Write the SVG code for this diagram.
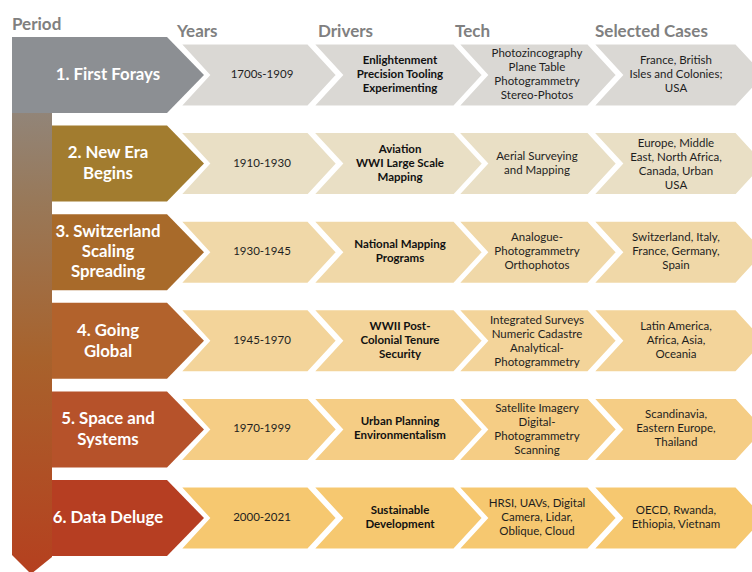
<svg xmlns="http://www.w3.org/2000/svg" xmlns:xlink="http://www.w3.org/1999/xlink" width="752" height="572" viewBox="0 0 752 572">
<style>
.hdr{font-family:Lato,"Liberation Sans",sans-serif;font-weight:bold;font-size:17px;fill:#808080}
.pt{font-family:Lato,"Liberation Sans",sans-serif;font-weight:bold;font-size:16.8px;fill:#ffffff;text-anchor:middle}
.t{font-family:Lato,"Liberation Sans",sans-serif;font-size:11.5px;fill:#1e1e1e;text-anchor:middle}
.b{font-weight:bold;fill:#111111}
.chev{stroke:#ffffff;stroke-width:2}
.r1p{fill:#8c8f93}.r1i{fill:#dad8d4}
.r2p{fill:#a27c2f}.r2i{fill:#e9dfc5}
.r3p{fill:#a86a2a}.r3i{fill:#f0d8a8}
.r4p{fill:#b2622c}.r4i{fill:#f3d49a}
.r5p{fill:#b6522a}.r5i{fill:#f5cd85}
.r6p{fill:#b63e22}.r6i{fill:#f6c870}
</style>
<defs>
<linearGradient id="barg" x1="0" y1="0" x2="0" y2="1">
<stop offset="0" stop-color="#8c8f93"/>
<stop offset="0.3" stop-color="#98795a"/>
<stop offset="0.6" stop-color="#a8622c"/>
<stop offset="1" stop-color="#b5401f"/>
</linearGradient>
<path id="per" d="M52,0 H167 L204,38 L167,76 H52 Z"/>
<path id="yrs" d="M180,6.5 H308 L337,38 L308,69.5 H180 L209,38 Z"/>
<path id="drv" d="M313,6.5 H454 L483,38 L454,69.5 H313 L342,38 Z"/>
<path id="tec" d="M458,6.5 H588 L617,38 L588,69.5 H458 L487,38 Z"/>
<path id="cas" d="M593,6.5 H736 L765,38 L736,69.5 H593 L622,38 Z"/>
</defs>

<g id="headers">
<text class="hdr" x="12" y="30">Period</text>
<text class="hdr" x="177" y="37">Years</text>
<text class="hdr" x="318" y="37">Drivers</text>
<text class="hdr" x="455" y="37">Tech</text>
<text class="hdr" x="595" y="37">Selected Cases</text>
</g>

<g id="timeline-bar">
<path d="M12,37 H52 V557 L31,574 L12,555 Z" fill="url(#barg)"/>
</g>

<g id="row1" transform="translate(0,37)">
<path d="M12,0 H167 L204,38 L167,76 H12 Z" class="r1p"/>
<use xlink:href="#yrs" class="r1i chev"/>
<use xlink:href="#drv" class="r1i chev"/>
<use xlink:href="#tec" class="r1i chev"/>
<use xlink:href="#cas" class="r1i chev"/>
<text class="pt" x="108" y="43">1. First Forays</text>
<text class="t" x="262" y="41">1700s-1909</text>
<text class="t b" x="400" y="27">Enlightenment</text>
<text class="t b" x="400" y="41">Precision Tooling</text>
<text class="t b" x="400" y="55">Experimenting</text>
<text class="t" x="537" y="20">Photozincography</text>
<text class="t" x="537" y="34">Plane Table</text>
<text class="t" x="537" y="48">Photogrammetry</text>
<text class="t" x="537" y="62">Stereo-Photos</text>
<text class="t" x="676" y="27">France, British</text>
<text class="t" x="676" y="41">Isles and Colonies;</text>
<text class="t" x="676" y="55">USA</text>
</g>

<g id="row2" transform="translate(0,125.6)">
<use xlink:href="#per" class="r2p"/>
<use xlink:href="#yrs" class="r2i chev"/>
<use xlink:href="#drv" class="r2i chev"/>
<use xlink:href="#tec" class="r2i chev"/>
<use xlink:href="#cas" class="r2i chev"/>
<text class="pt" x="108" y="32">2. New Era</text>
<text class="pt" x="108" y="53">Begins</text>
<text class="t" x="262" y="41">1910-1930</text>
<text class="t b" x="400" y="27">Aviation</text>
<text class="t b" x="400" y="41">WWI Large Scale</text>
<text class="t b" x="400" y="55">Mapping</text>
<text class="t" x="537" y="34">Aerial Surveying</text>
<text class="t" x="537" y="48">and Mapping</text>
<text class="t" x="676" y="21">Europe, Middle</text>
<text class="t" x="676" y="35">East, North Africa,</text>
<text class="t" x="676" y="49">Canada, Urban</text>
<text class="t" x="676" y="63">USA</text>
</g>

<g id="row3" transform="translate(0,214.2)">
<use xlink:href="#per" class="r3p"/>
<use xlink:href="#yrs" class="r3i chev"/>
<use xlink:href="#drv" class="r3i chev"/>
<use xlink:href="#tec" class="r3i chev"/>
<use xlink:href="#cas" class="r3i chev"/>
<text class="pt" x="108" y="23">3. Switzerland</text>
<text class="pt" x="108" y="43">Scaling</text>
<text class="pt" x="108" y="63">Spreading</text>
<text class="t" x="262" y="41">1930-1945</text>
<text class="t b" x="400" y="34">National Mapping</text>
<text class="t b" x="400" y="48">Programs</text>
<text class="t" x="537" y="27">Analogue-</text>
<text class="t" x="537" y="41">Photogrammetry</text>
<text class="t" x="537" y="55">Orthophotos</text>
<text class="t" x="676" y="27">Switzerland, Italy,</text>
<text class="t" x="676" y="41">France, Germany,</text>
<text class="t" x="676" y="55">Spain</text>
</g>

<g id="row4" transform="translate(0,302.8)">
<use xlink:href="#per" class="r4p"/>
<use xlink:href="#yrs" class="r4i chev"/>
<use xlink:href="#drv" class="r4i chev"/>
<use xlink:href="#tec" class="r4i chev"/>
<use xlink:href="#cas" class="r4i chev"/>
<text class="pt" x="108" y="33">4. Going</text>
<text class="pt" x="108" y="54">Global</text>
<text class="t" x="262" y="41">1945-1970</text>
<text class="t b" x="400" y="27">WWII Post-</text>
<text class="t b" x="400" y="41">Colonial Tenure</text>
<text class="t b" x="400" y="55">Security</text>
<text class="t" x="537" y="21">Integrated Surveys</text>
<text class="t" x="537" y="35">Numeric Cadastre</text>
<text class="t" x="537" y="49">Analytical-</text>
<text class="t" x="537" y="63">Photogrammetry</text>
<text class="t" x="676" y="27">Latin America,</text>
<text class="t" x="676" y="41">Africa, Asia,</text>
<text class="t" x="676" y="55">Oceania</text>
</g>

<g id="row5" transform="translate(0,391.4)">
<use xlink:href="#per" class="r5p"/>
<use xlink:href="#yrs" class="r5i chev"/>
<use xlink:href="#drv" class="r5i chev"/>
<use xlink:href="#tec" class="r5i chev"/>
<use xlink:href="#cas" class="r5i chev"/>
<text class="pt" x="108" y="33">5. Space and</text>
<text class="pt" x="108" y="54">Systems</text>
<text class="t" x="262" y="41">1970-1999</text>
<text class="t b" x="400" y="34">Urban Planning</text>
<text class="t b" x="400" y="48">Environmentalism</text>
<text class="t" x="537" y="21">Satellite Imagery</text>
<text class="t" x="537" y="35">Digital-</text>
<text class="t" x="537" y="49">Photogrammetry</text>
<text class="t" x="537" y="63">Scanning</text>
<text class="t" x="676" y="27">Scandinavia,</text>
<text class="t" x="676" y="41">Eastern Europe,</text>
<text class="t" x="676" y="55">Thailand</text>
</g>

<g id="row6" transform="translate(0,480)">
<use xlink:href="#per" class="r6p"/>
<use xlink:href="#yrs" class="r6i chev"/>
<use xlink:href="#drv" class="r6i chev"/>
<use xlink:href="#tec" class="r6i chev"/>
<use xlink:href="#cas" class="r6i chev"/>
<text class="pt" x="108" y="43">6. Data Deluge</text>
<text class="t" x="262" y="41">2000-2021</text>
<text class="t b" x="400" y="34">Sustainable</text>
<text class="t b" x="400" y="48">Development</text>
<text class="t" x="537" y="27">HRSI, UAVs, Digital</text>
<text class="t" x="537" y="41">Camera, Lidar,</text>
<text class="t" x="537" y="55">Oblique, Cloud</text>
<text class="t" x="676" y="34">OECD, Rwanda,</text>
<text class="t" x="676" y="48">Ethiopia, Vietnam</text>
</g>
</svg>
